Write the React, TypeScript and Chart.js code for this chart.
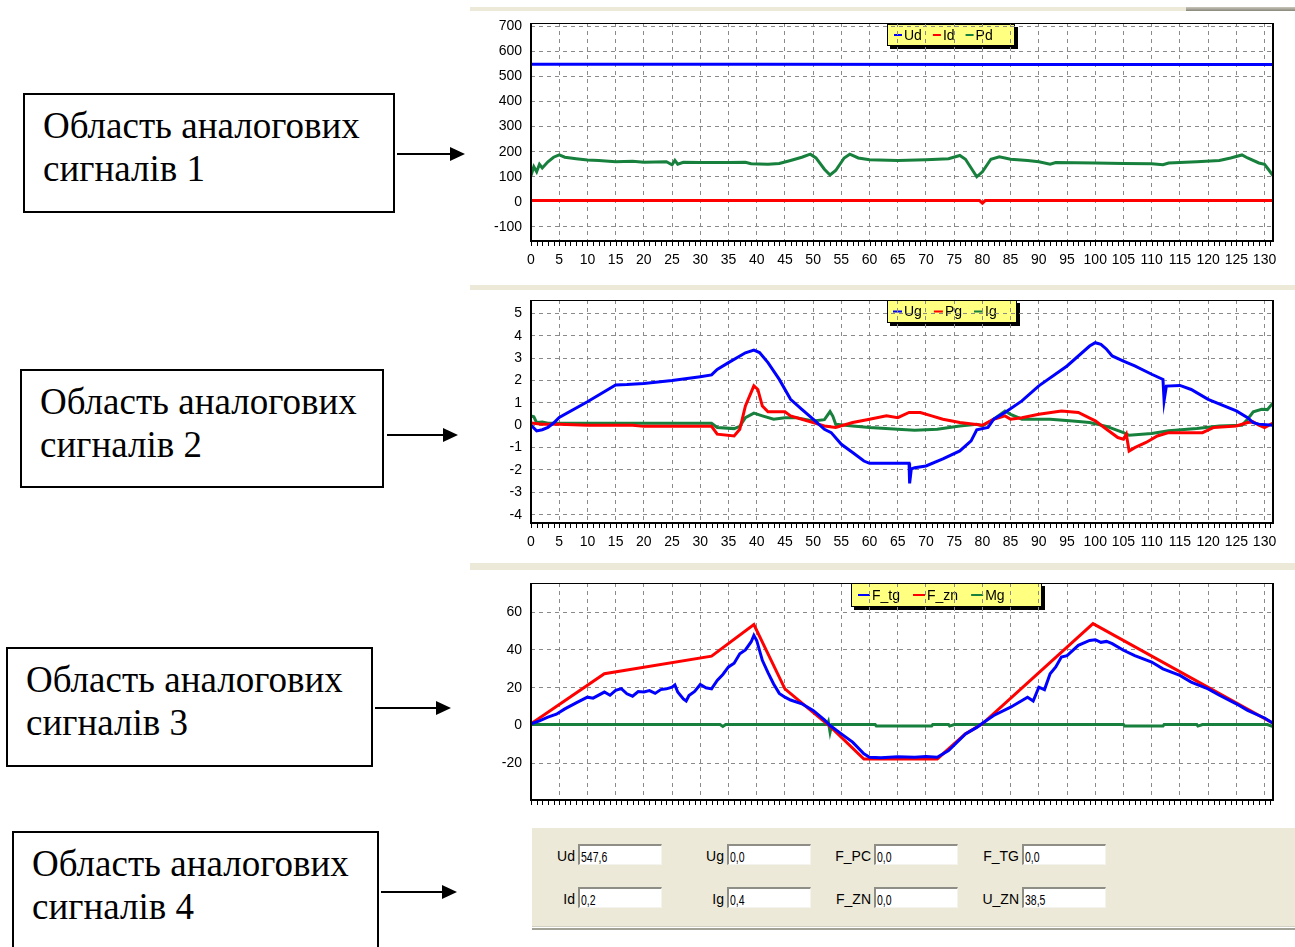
import React, { useEffect, useRef } from 'react';
import { Chart, registerables } from 'chart.js';

Chart.register(...registerables);

type Pt = [number, number];

// ---------- axis ticks ----------
const X_TICKS = [0, 5, 10, 15, 20, 25, 30, 35, 40, 45, 50, 55, 60, 65, 70, 75, 80, 85, 90, 95, 100, 105, 110, 115, 120, 125, 130];
const X_MAX = 131.5;
const Y1_TICKS = [-100, 0, 100, 200, 300, 400, 500, 600, 700];
const Y2_TICKS = [-4, -3, -2, -1, 0, 1, 2, 3, 4, 5];
const Y3_TICKS = [-20, 0, 20, 40, 60];

// ---------- chart 1 : Ud, Id, Pd ----------
const UD: Pt[] = [[0, 549], [40, 549], [80, 548], [131.5, 548]];
const ID: Pt[] = [[0, 5], [79.5, 5], [80, -5], [80.5, 5], [131.5, 5]];
const PD: Pt[] = [
  [0, 105], [0.5, 140], [1, 120], [1.5, 150], [2, 135], [3, 160], [4, 178], [5, 187], [6, 178], [8, 172],
  [10, 167], [12, 165], [15, 160], [18, 162], [20, 158], [24, 160], [25, 148], [25.5, 165], [26, 150], [27, 158],
  [30, 157], [35, 157], [38, 158], [39, 152], [42, 150], [44, 153], [46, 165], [48, 178], [49.5, 190], [50.5, 175],
  [52, 130], [53, 107], [54, 125], [55.5, 175], [56.5, 190], [58, 175], [60, 168], [65, 165], [70, 168], [74, 172],
  [76, 185], [77, 170], [79, 100], [80, 120], [81.5, 170], [83, 180], [85, 170], [88, 165], [90, 160], [92, 150],
  [93, 157], [100, 155], [105, 153], [110, 152], [112, 148], [113, 155], [118, 160], [122, 165], [124, 175], [126, 187],
  [127, 175], [129, 155], [130, 150], [130.5, 135], [131.5, 105],
];

// ---------- chart 2 : Ug, Pg, Ig ----------
const UG: Pt[] = [
  [0, 0], [1, -0.25], [2, -0.2], [3, -0.1], [4, 0.1], [5, 0.35], [10, 1.05], [15, 1.8], [17, 1.82], [20, 1.87],
  [25, 2.0], [28, 2.1], [30, 2.17], [32, 2.25], [33, 2.5], [35, 2.8], [38, 3.24], [39.5, 3.36], [40.5, 3.25], [42, 2.8],
  [44, 2.05], [46, 1.16], [48, 0.71], [50, 0.27], [52, -0.18], [53.2, -0.33], [55, -0.85], [57, -1.22], [59, -1.6], [60, -1.7],
  [67, -1.7], [67.1, -2.6], [67.4, -1.95], [68, -1.9], [70, -1.82], [73, -1.5], [76, -1.15], [78, -0.7], [79, -0.2], [81, -0.1],
  [82, 0.27], [84, 0.57], [87, 1.09], [90, 1.76], [95, 2.65], [99, 3.54], [100, 3.69], [101, 3.62], [102, 3.4], [103, 3.1],
  [105, 2.87], [107, 2.65], [110, 2.28], [112, 2.05], [112.2, 1.1], [112.6, 1.75], [115, 1.78], [117, 1.6], [120, 1.16], [125, 0.64],
  [127, 0.34], [128, 0.12], [129, 0.05], [131.5, 0],
];
const PG: Pt[] = [
  [0, 0.1], [2, 0.05], [5, 0.05], [10, 0], [18, 0], [20, -0.05], [32, -0.05], [33, -0.4], [36, -0.48], [37, -0.18],
  [38, 0.86], [39.5, 1.76], [40.2, 1.6], [41, 0.86], [42, 0.6], [45, 0.6], [46, 0.42], [48, 0.27], [50, 0.12], [52, -0.03],
  [54, -0.1], [57, 0.12], [60, 0.27], [63, 0.42], [65, 0.34], [67, 0.57], [69, 0.57], [71, 0.42], [73, 0.27], [76, 0.12],
  [80, 0], [82, 0.27], [84, 0.42], [85, 0.27], [87, 0.34], [90, 0.49], [94, 0.64], [97, 0.57], [100, 0.2], [102, -0.18],
  [104, -0.55], [105, -0.62], [105.5, -0.4], [106, -1.15], [107, -1.0], [109, -0.77], [111, -0.48], [113, -0.33], [119, -0.33], [121, -0.1],
  [125, -0.03], [127, 0.12], [128, 0.15], [129, 0], [130, -0.1], [131.5, 0.1],
];
const IG: Pt[] = [
  [0, 0.42], [0.5, 0.38], [1, 0.12], [2, 0.15], [3, 0.09], [32, 0.09], [33, -0.1], [36, -0.15], [37, -0.05], [38, 0.34],
  [39.5, 0.54], [41, 0.42], [43, 0.27], [45, 0.34], [47, 0.34], [50, 0.19], [52, 0.25], [53, 0.61], [53.5, 0.4], [54, 0.04],
  [57, -0.03], [60, -0.1], [65, -0.18], [68, -0.22], [72, -0.18], [76, -0.03], [79, 0.04], [80, -0.03], [82, 0.27], [84, 0.64],
  [85, 0.49], [87, 0.27], [92, 0.27], [96, 0.19], [99, 0.12], [102, -0.05], [105, -0.33], [106, -0.45], [110, -0.37], [113, -0.25],
  [118, -0.15], [122, -0.03], [126, 0], [127, 0.27], [128, 0.6], [129.5, 0.71], [130.5, 0.7], [131.5, 1.0],
];

// ---------- chart 3 : F_tg, F_zn, Mg ----------
const F_TG: Pt[] = [
  [0, 0.9], [1.5, 2.5], [3, 4.4], [4.5, 6], [6, 8.8], [8, 12], [10, 15], [11, 14.5], [13, 17.7], [14, 16],
  [15, 18.6], [16, 19.5], [17, 16.8], [18, 15.5], [19, 18], [20, 17.7], [21, 18.5], [22, 17], [23, 19], [24, 19.4],
  [25, 20.3], [25.5, 21.5], [26, 17.7], [27, 14.1], [27.5, 13], [28, 15.9], [29, 18], [30, 21.7], [31, 20], [32, 19.4],
  [33, 23.9], [34, 27], [35, 31], [36, 33], [37, 38], [38, 40], [39, 44.2], [39.5, 47.7], [40, 45], [41, 34.5],
  [42, 28], [43, 22], [44, 17], [45, 15], [46, 13.5], [48, 11.5], [50, 8], [52, 3], [53, 0], [55, -4.4],
  [57, -8.8], [59, -15], [60, -16.8], [62, -17], [65, -16.5], [68, -16.8], [70, -16.4], [72, -16.8], [74, -13.3], [77, -4.4],
  [79, -1], [80, 1.2], [82, 5.3], [85, 9.7], [88, 15], [89, 13], [90, 20.3], [91, 19], [92, 27.4], [93, 31],
  [94, 36.2], [95, 37], [97, 42.4], [99, 45], [100, 45.4], [101, 44], [102, 44.5], [103, 43.3], [105, 39.8], [107, 37],
  [110, 33.6], [112, 30], [115, 26.5], [117, 23], [120, 19.4], [122, 16], [125, 11.5], [127, 8], [129, 5.3], [130, 4],
  [131.5, 1.2],
];
const F_ZN: Pt[] = [
  [0, 0.9], [13, 27.4], [32, 36.7], [39.5, 53.4], [45, 19.4], [50, 7], [53, -0.5], [59, -17.7], [72, -17.7], [77, -4.4],
  [80, 0.9], [99.6, 53.9], [131.5, 1.2],
];
const MG: Pt[] = [
  [0, 0.5], [33.5, 0.5], [34, -0.5], [34.5, 0.5], [52.5, 0.5], [52.7, 2], [53, -3.5], [53.3, 0.5], [61, 0.5], [61.2, -0.3],
  [71, -0.3], [71.2, 0.5], [74, 0.5], [74.2, -0.3], [75, 0.5], [105, 0.5], [105.2, -0.3], [112, -0.3], [112.2, 0.5], [118, 0.5],
  [118.2, -0.3], [119, 0.5], [130.5, 0.5], [131.5, -0.5],
];

// ---------- panel 4 ----------
const PANEL_LABELS_1 = ['Ud', 'Ug', 'F_PC', 'F_TG'];
const PANEL_VALUES_1 = ['547,6', '0,0', '0,0', '0,0'];
const PANEL_LABELS_2 = ['Id', 'Ig', 'F_ZN', 'U_ZN'];
const PANEL_VALUES_2 = ['0,2', '0,4', '0,0', '38,5'];

const BLUE = '#0000FF';
const RED = '#FF0000';
const GREEN = '#17803C';
const GRID = '#8a8a8a';
const FONT = "'Liberation Sans', Arial, sans-serif";

const legendPlugin = {
  id: 'boxLegend',
  beforeDraw(chart: any, _a: any, o: any) {
    const { ctx, chartArea } = chart;
    const x = o.x;
    const y = chartArea.top + o.dy;
    ctx.save();
    ctx.fillStyle = '#000';
    ctx.fillRect(x + 3, y + 3, o.w, o.h);
    ctx.fillStyle = '#FFFF80';
    ctx.fillRect(x, y, o.w, o.h);
    ctx.strokeStyle = '#000';
    ctx.lineWidth = 1;
    ctx.strokeRect(x + 0.5, y + 0.5, o.w - 1, o.h - 1);
    ctx.font = `${o.size}px ${FONT}`;
    ctx.textBaseline = 'middle';
    let cx = x + o.pad;
    const cy = y + o.h / 2;
    chart.data.datasets.forEach((ds: any) => {
      ctx.fillStyle = ds.borderColor;
      ctx.fillRect(cx, cy - 1, o.marker, 2);
      cx += o.marker + 2;
      ctx.fillStyle = '#000';
      ctx.fillText(ds.label, cx, cy + 1);
      cx += ctx.measureText(ds.label).width + o.gap;
    });
    ctx.restore();
  },
};

const framePlugin = {
  id: 'plotFrame',
  afterDatasetsDraw(chart: any) {
    const { ctx, chartArea: a } = chart;
    const l = Math.round(a.left), t = Math.round(a.top), r = Math.round(a.right), b = Math.round(a.bottom);
    ctx.save();
    ctx.fillStyle = '#000';
    ctx.fillRect(l, t, r - l, 1);
    ctx.fillRect(r - 1, t, 2, b - t);
    ctx.fillRect(l - 1, t, 2, b - t + 1);
    ctx.fillRect(l - 1, b - 1, r - l + 2, 2);
    ctx.restore();
  },
};

const minorTickPlugin = {
  id: 'minorTicks',
  afterDraw(chart: any) {
    const { ctx, chartArea: a, scales } = chart;
    const xs = scales.x;
    ctx.save();
    ctx.fillStyle = '#000';
    for (let v = 0; v <= Math.floor(X_MAX); v++) {
      const px = Math.round(xs.getPixelForValue(v));
      ctx.fillRect(px, Math.round(a.bottom) + 1, 1, 4);
    }
    ctx.restore();
  },
};

type Series = { label: string; color: string; data: Pt[] };

function makeConfig(p: {
  series: Series[];
  yMin: number;
  yMax: number;
  yTicks: number[];
  xLabels: boolean;
  padTop: number;
  xAxisH: number;
  legend: any;
}) {
  return {
    type: 'line',
    data: {
      datasets: p.series.map((s) => ({
        label: s.label,
        data: s.data.map(([x, y]) => ({ x, y })),
        borderColor: s.color,
        backgroundColor: s.color,
        borderWidth: 3,
        pointRadius: 0,
        tension: 0,
        fill: false,
      })),
    },
    options: {
      animation: false,
      responsive: false,
      devicePixelRatio: 1,
      layout: { padding: { top: p.padTop, right: 22, left: 0, bottom: 0 } },
      plugins: {
        legend: { display: false },
        tooltip: { enabled: false },
        boxLegend: p.legend,
      },
      scales: {
        x: {
          type: 'linear',
          min: 0,
          max: X_MAX,
          afterBuildTicks: (s: any) => {
            s.ticks = X_TICKS.map((v) => ({ value: v }));
          },
          afterFit: (s: any) => {
            s.height = p.xAxisH;
          },
          ticks: {
            display: p.xLabels,
            autoSkip: false,
            maxRotation: 0,
            minRotation: 0,
            padding: 0,
            color: '#000',
            font: { family: FONT, size: 14 },
            callback: (v: any) => String(v),
          },
          grid: { color: GRID, lineWidth: 1, drawTicks: true, tickLength: 11, tickColor: 'rgba(0,0,0,0)' },
          border: { display: false, dash: [4, 4] },
        },
        y: {
          type: 'linear',
          min: p.yMin,
          max: p.yMax,
          afterBuildTicks: (s: any) => {
            s.ticks = p.yTicks.map((v) => ({ value: v }));
          },
          afterFit: (s: any) => {
            s.width = 61;
          },
          ticks: {
            padding: 0,
            color: '#000',
            font: { family: FONT, size: 14 },
            callback: (v: any) => String(v),
          },
          grid: { color: GRID, lineWidth: 1, drawTicks: true, tickLength: 9, tickColor: 'rgba(0,0,0,0)' },
          border: { display: false, dash: [4, 4] },
        },
      },
    },
    plugins: [legendPlugin, framePlugin, minorTickPlugin],
  };
}

function SignalChart(props: { top: number; height: number; config: any }) {
  const ref = useRef<HTMLCanvasElement>(null);
  useEffect(() => {
    const chart = new Chart(ref.current as HTMLCanvasElement, props.config);
    return () => chart.destroy();
  }, []);
  return (
    <canvas
      ref={ref}
      width={825}
      height={props.height}
      style={{ position: 'absolute', left: 470, top: props.top, width: 825, height: props.height }}
    />
  );
}

const chart1 = makeConfig({
  series: [
    { label: 'Ud', color: BLUE, data: UD },
    { label: 'Id', color: RED, data: ID },
    { label: 'Pd', color: GREEN, data: PD },
  ],
  yMin: -156,
  yMax: 713,
  yTicks: Y1_TICKS,
  xLabels: true,
  padTop: 11,
  xAxisH: 39,
  legend: { x: 417, dy: 1, w: 128, h: 22, pad: 7, marker: 8, gap: 11, size: 14 },
});

const chart2 = makeConfig({
  series: [
    { label: 'Ug', color: BLUE, data: UG },
    { label: 'Pg', color: RED, data: PG },
    { label: 'Ig', color: GREEN, data: IG },
  ],
  yMin: -4.37,
  yMax: 5.6,
  yTicks: Y2_TICKS,
  xLabels: true,
  padTop: 10,
  xAxisH: 35,
  legend: { x: 417, dy: 0, w: 130, h: 23, pad: 6, marker: 9, gap: 12, size: 14 },
});

const chart3 = makeConfig({
  series: [
    { label: 'F_tg', color: BLUE, data: F_TG },
    { label: 'F_zn', color: RED, data: F_ZN },
    { label: 'Mg', color: GREEN, data: MG },
  ],
  yMin: -39.4,
  yMax: 75.4,
  yTicks: Y3_TICKS,
  xLabels: false,
  padTop: 13,
  xAxisH: 15,
  legend: { x: 381, dy: 0, w: 191, h: 24, pad: 7, marker: 12, gap: 13, size: 14 },
});

const BOXES = [
  { n: '1', left: 23, top: 93, w: 372, h: 120 },
  { n: '2', left: 20, top: 369, w: 364, h: 119 },
  { n: '3', left: 6, top: 647, w: 367, h: 120 },
  { n: '4', left: 12, top: 831, w: 367, h: 124 },
];
const ARROWS = [
  { x1: 397, x2: 465, y: 154 },
  { x1: 387, x2: 458, y: 435 },
  { x1: 375, x2: 451, y: 708 },
  { x1: 381, x2: 457, y: 892 },
];

const beige = '#ECE9D8';

function Field(props: { label: string; value: string; fieldLeft: number; top: number }) {
  return (
    <>
      <div
        style={{
          position: 'absolute',
          left: props.fieldLeft - 63,
          width: 60,
          top: props.top,
          height: 21,
          lineHeight: '21px',
          paddingTop: 4,
          boxSizing: 'border-box',
          textAlign: 'right',
          font: `14px ${FONT}`,
          color: '#000',
          whiteSpace: 'nowrap',
        }}
      >
        {props.label}
      </div>
      <div
        style={{
          position: 'absolute',
          left: props.fieldLeft,
          top: props.top,
          width: 84,
          height: 21,
          boxSizing: 'border-box',
          background: '#fff',
          borderTop: '2px solid #8f8e86',
          borderLeft: '2px solid #8f8e86',
          borderBottom: '1px solid #f4f3ee',
          borderRight: '1px solid #f4f3ee',
          overflow: 'hidden',
        }}
      >
        <div
          style={{
            position: 'absolute',
            left: 1,
            top: 3,
            font: `14px ${FONT}`,
            lineHeight: '16px',
            transform: 'scaleX(0.75)',
            transformOrigin: 'left center',
            whiteSpace: 'nowrap',
            color: '#000',
          }}
        >
          {props.value}
        </div>
      </div>
    </>
  );
}

const FIELD_LEFTS = [578, 727, 874, 1022];

export default function App() {
  return (
    <div
      style={{
        position: 'absolute',
        left: 0,
        top: 0,
        width: 1295,
        height: 947,
        overflow: 'hidden',
        background: '#fff',
      }}
    >
      {/* window strips */}
      <div style={{ position: 'absolute', left: 470, top: 7, width: 825, height: 4, background: beige }} />
      <div
        style={{
          position: 'absolute',
          left: 1186,
          top: 7,
          width: 109,
          height: 4,
          background: 'linear-gradient(#c9c7ba, #87867a)',
        }}
      />
      <div style={{ position: 'absolute', left: 470, top: 285, width: 825, height: 5, background: beige }} />
      <div style={{ position: 'absolute', left: 470, top: 563, width: 825, height: 7, background: beige }} />

      <SignalChart top={12} height={268} config={chart1} />
      <SignalChart top={290} height={268} config={chart2} />
      <SignalChart top={570} height={245} config={chart3} />

      {/* panel 4 */}
      <div
        style={{
          position: 'absolute',
          left: 532,
          top: 828,
          width: 763,
          height: 98,
          background: beige,
        }}
      />
      <div style={{ position: 'absolute', left: 532, top: 926, width: 763, height: 1, background: '#d2d0c3' }} />
      <div style={{ position: 'absolute', left: 532, top: 928, width: 763, height: 2, background: '#a3a296' }} />
      {PANEL_LABELS_1.map((l, i) => (
        <Field key={'a' + i} label={l} value={PANEL_VALUES_1[i]} fieldLeft={FIELD_LEFTS[i]} top={844} />
      ))}
      {PANEL_LABELS_2.map((l, i) => (
        <Field key={'b' + i} label={l} value={PANEL_VALUES_2[i]} fieldLeft={FIELD_LEFTS[i]} top={887} />
      ))}

      {/* annotation boxes */}
      {BOXES.map((b) => (
        <div
          key={b.n}
          style={{
            position: 'absolute',
            left: b.left,
            top: b.top,
            width: b.w,
            height: b.h,
            boxSizing: 'border-box',
            border: '2px solid #000',
            paddingTop: 9,
            paddingLeft: 18,
            font: "37px 'Liberation Serif', 'Times New Roman', serif",
            lineHeight: '43px',
            color: '#000',
            whiteSpace: 'nowrap',
          }}
        >
          <div>Область аналогових</div>
          <div>сигналів {b.n}</div>
        </div>
      ))}
      <svg width={1295} height={947} style={{ position: 'absolute', left: 0, top: 0 }}>
        {ARROWS.map((a, i) => (
          <g key={i}>
            <line x1={a.x1} y1={a.y} x2={a.x2 - 14} y2={a.y} stroke="#000" strokeWidth={2} />
            <polygon points={`${a.x2},${a.y} ${a.x2 - 15},${a.y - 7} ${a.x2 - 15},${a.y + 7}`} fill="#000" />
          </g>
        ))}
      </svg>
    </div>
  );
}
